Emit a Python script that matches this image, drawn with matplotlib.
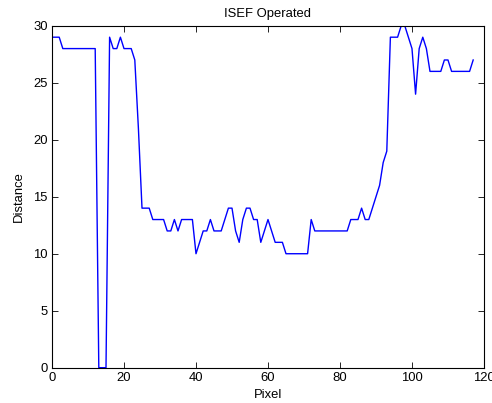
import matplotlib
matplotlib.use("Agg")
import matplotlib.pyplot as plt

plt.rcParams['font.family'] = ['Liberation Sans', 'DejaVu Sans']

# distance per pixel column
pixels = list(range(0, 118))
distance = [29, 29, 29, 28, 28, 28, 28, 28, 28, 28,
            28, 28, 28, 0, 0, 0, 29, 28, 28, 29,
            28, 28, 28, 27, 21, 14, 14, 14, 13, 13,
            13, 13, 12, 12, 13, 12, 13, 13, 13, 13,
            10, 11, 12, 12, 13, 12, 12, 12, 13, 14,
            14, 12, 11, 13, 14, 14, 13, 13, 11, 12,
            13, 12, 11, 11, 11, 10, 10, 10, 10, 10,
            10, 10, 13, 12, 12, 12, 12, 12, 12, 12,
            12, 12, 12, 13, 13, 13, 14, 13, 13, 14,
            15, 16, 18, 19, 29, 29, 29, 30, 30, 29,
            28, 24, 28, 29, 28, 26, 26, 26, 26, 27,
            27, 26, 26, 26, 26, 26, 26, 27]

fig = plt.figure(figsize=(4.92, 4.03), dpi=100)
ax = fig.add_axes([0.1057, 0.0876, 0.878, 0.8484])

ax.plot(pixels, distance, color='blue', linewidth=1.0)

ax.set_xlim(0, 120)
ax.set_ylim(0, 30)
ax.set_xticks(range(0, 121, 20))
ax.set_yticks(range(0, 31, 5))
ax.tick_params(direction='in', top=True, right=True, labelsize=9.4,
               length=4, width=0.6, pad=3)
for s in ax.spines.values():
    s.set_linewidth(0.8)

# titles and axis labels
ax.set_title("ISEF Operated", fontsize=9.4, pad=6.5)
ax.set_xlabel("Pixel", fontsize=9.4, labelpad=4)
ax.set_ylabel("Distance", fontsize=9.4, labelpad=6)

fig.savefig("out.png", dpi=100)
